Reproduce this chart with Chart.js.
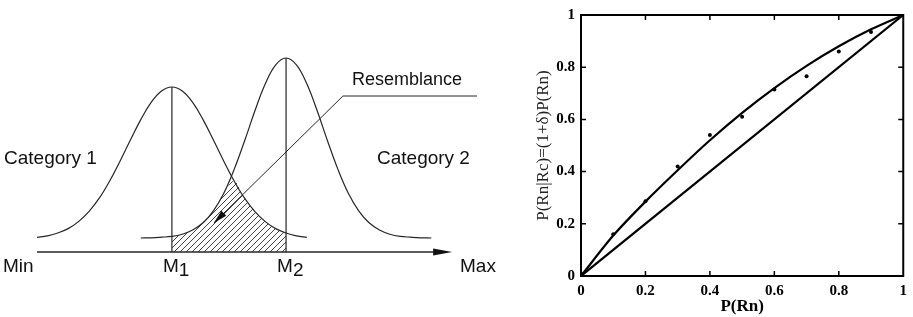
<!DOCTYPE html>
<html>
<head>
<meta charset="utf-8">
<script src="https://cdn.jsdelivr.net/npm/chart.js@4.4.0/dist/chart.umd.min.js"></script>
<style>
  html, body { margin: 0; padding: 0; background: #fff; }
  #wrap { position: relative; width: 913px; height: 317px; overflow: hidden; }
  #left { position: absolute; left: 0; top: 0; }
  #right { position: absolute; left: 520px; top: 0; }
</style>
</head>
<body>
<div id="wrap">
  <canvas id="left" width="520" height="317"></canvas>
  <canvas id="right" width="393" height="317"></canvas>
</div>
<script>
// ---- left diagram: two categories along the Min..Max axis ----
const gridStep = 0.25;
const cat1Start = 0;
const cat1Values = [0.073, 0.081, 0.095, 0.117, 0.152, 0.202, 0.269, 0.355, 0.454, 0.560, 0.662, 0.748, 0.805,
  0.825, 0.805, 0.748, 0.662, 0.560, 0.454, 0.355, 0.269, 0.202, 0.152, 0.117, 0.095, 0.081, 0.073];
const cat2Start = 2.5;
const cat2Values = [0.070, 0.071, 0.074, 0.078, 0.089, 0.110, 0.146, 0.206, 0.294, 0.413, 0.555, 0.706, 0.841, 0.936,
  0.970, 0.936, 0.841, 0.706, 0.555, 0.413, 0.294, 0.206, 0.146, 0.110, 0.089, 0.078, 0.074, 0.071, 0.070];
const m1 = 3.25;
const m2 = 6.0;
const axisEnd = 10;
const leaderPath = [[10.6, 0.78], [7.37, 0.78], [4.26, 0.145]];

// ---- right plot: P(Rn|Rc) against P(Rn) ----
const pRn = [0, 0.1, 0.2, 0.3, 0.4, 0.5, 0.6, 0.7, 0.8, 0.9, 1];
const fitted = [0, 0.155, 0.285, 0.405, 0.52, 0.625, 0.72, 0.805, 0.88, 0.945, 1];
const observed = [0.01, 0.16, 0.286, 0.42, 0.54, 0.61, 0.715, 0.765, 0.86, 0.935, 1];
const diagonal = [0, 1];
const tickValues = [0, 0.2, 0.4, 0.6, 0.8, 1];

const toPts = (start, vals) => vals.map((v, i) => ({ x: start + i * gridStep, y: v }));
const cat1 = toPts(cat1Start, cat1Values);
const cat2 = toPts(cat2Start, cat2Values);

// overlap between M1 and M2 = lower of the two curves
const overlap = [];
for (let x = m1; x <= m2 + 1e-9; x += gridStep) {
  const a = cat1Values[Math.round((x - cat1Start) / gridStep)];
  const b = cat2Values[Math.round((x - cat2Start) / gridStep)];
  overlap.push({ x: x, y: Math.min(a, b) });
}

// hatch pattern
const pc = document.createElement('canvas');
pc.width = 6; pc.height = 6;
const pctx = pc.getContext('2d');
pctx.strokeStyle = '#444';
pctx.lineWidth = 1;
pctx.beginPath();
pctx.moveTo(0, 6); pctx.lineTo(6, 0);
pctx.moveTo(-1, 1); pctx.lineTo(1, -1);
pctx.moveTo(5, 7); pctx.lineTo(7, 5);
pctx.stroke();
const hatch = pctx.createPattern(pc, 'repeat');

const ink = '#262626';
const line = (data, extra) => Object.assign({
  data: data, borderColor: ink, borderWidth: 1.2, pointRadius: 0, fill: false, tension: 0, clip: false
}, extra || {});

const leftDecor = {
  id: 'leftDecor',
  afterDatasetsDraw(chart) {
    const { ctx, scales: { x, y } } = chart;
    ctx.save();
    ctx.fillStyle = '#111';
    // axis arrowhead
    const ax = x.getPixelForValue(axisEnd), ay = y.getPixelForValue(0);
    ctx.beginPath();
    ctx.moveTo(ax, ay); ctx.lineTo(ax - 19, ay - 3.5); ctx.lineTo(ax - 19, ay + 3.5);
    ctx.closePath(); ctx.fill();
    // leader arrowhead
    const p = leaderPath[leaderPath.length - 1], q = leaderPath[leaderPath.length - 2];
    const tx = x.getPixelForValue(p[0]), ty = y.getPixelForValue(p[1]);
    const ang = Math.atan2(ty - y.getPixelForValue(q[1]), tx - x.getPixelForValue(q[0]));
    ctx.translate(tx, ty); ctx.rotate(ang);
    ctx.beginPath();
    ctx.moveTo(0, 0); ctx.lineTo(-14, -3.5); ctx.lineTo(-14, 3.5);
    ctx.closePath(); ctx.fill();
    ctx.restore();

    ctx.save();
    ctx.fillStyle = '#111';
    ctx.textBaseline = 'middle';
    ctx.textAlign = 'left';
    ctx.font = '19px "Liberation Sans", Arial, sans-serif';
    const yb = y.getPixelForValue(0) + 15;
    ctx.fillText('Min', 3, yb);
    ctx.fillText('Max', 460, yb);
    ctx.fillText('Category 1', 4, 159);
    ctx.fillText('Category 2', 377, 159);
    const sub = (label, s, xv) => {
      const px = x.getPixelForValue(xv) - 9;
      ctx.fillText(label, px, yb);
      ctx.fillText(s, px + ctx.measureText(label).width, yb + 4);
    };
    sub('M', '1', m1);
    sub('M', '2', m2);
    ctx.font = '18px "Liberation Sans", Arial, sans-serif';
    ctx.fillText('Resemblance', 352, 80);
    ctx.restore();
  }
};

new Chart(document.getElementById('left'), {
  type: 'line',
  data: {
    datasets: [
      line(cat1, { tension: 0.4 }),
      line(cat2, { tension: 0.4 }),
      line([{ x: m1, y: 0 }, { x: m1, y: Math.max(...cat1Values) }]),
      line([{ x: m2, y: 0 }, { x: m2, y: Math.max(...cat2Values) }]),
      line([{ x: 0, y: 0 }, { x: axisEnd - 0.3, y: 0 }], { borderWidth: 1.4 }),
      line(leaderPath.map(p => ({ x: p[0], y: p[1] })), { borderWidth: 1 }),
      line(overlap, { tension: 0.4, borderWidth: 0, fill: 'origin', backgroundColor: hatch })
    ]
  },
  options: {
    responsive: false,
    animation: false,
    layout: { padding: { left: 37, right: 43, top: 52, bottom: 65 } },
    plugins: { legend: { display: false }, tooltip: { enabled: false } },
    scales: {
      x: { type: 'linear', min: 0, max: 10.6, display: false },
      y: { type: 'linear', min: 0, max: 1, display: false }
    }
  },
  plugins: [leftDecor]
});

// frame and inward ticks for the right plot
const frame = {
  id: 'frame',
  afterDraw(chart) {
    const { ctx, chartArea: a, scales: { x, y } } = chart;
    ctx.save();
    ctx.strokeStyle = '#000';
    ctx.lineWidth = 2;
    ctx.strokeRect(a.left, a.top, a.right - a.left, a.bottom - a.top);
    ctx.lineWidth = 1.5;
    ctx.beginPath();
    tickValues.slice(1, -1).forEach(v => {
      const px = x.getPixelForValue(v), py = y.getPixelForValue(v);
      ctx.moveTo(px, a.bottom); ctx.lineTo(px, a.bottom - 5);
      ctx.moveTo(px, a.top); ctx.lineTo(px, a.top + 5);
      ctx.moveTo(a.left, py); ctx.lineTo(a.left + 5, py);
      ctx.moveTo(a.right, py); ctx.lineTo(a.right - 5, py);
    });
    ctx.stroke();
    ctx.restore();
  }
};

const serif = '"Liberation Serif", "Times New Roman", serif';
const tickText = v => String(Math.round(v * 10) / 10);
new Chart(document.getElementById('right'), {
  type: 'line',
  data: {
    datasets: [
      { data: pRn.map((p, i) => ({ x: p, y: fitted[i] })), borderColor: '#000', borderWidth: 2.2,
        pointRadius: 0, tension: 0.3, fill: false },
      { data: diagonal.map(v => ({ x: v, y: v })), borderColor: '#000', borderWidth: 2.2,
        pointRadius: 0, fill: false },
      { data: pRn.map((p, i) => ({ x: p, y: observed[i] })), showLine: false,
        pointRadius: 2, pointBackgroundColor: '#000', pointBorderWidth: 0 }
    ]
  },
  options: {
    responsive: false,
    animation: false,
    layout: { autoPadding: false, padding: { top: 7, right: 7, left: 0, bottom: 0 } },
    plugins: { legend: { display: false }, tooltip: { enabled: false } },
    scales: {
      x: {
        type: 'linear', min: 0, max: 1,
        afterBuildTicks: s => { s.ticks = tickValues.map(v => ({ value: v })); },
        afterFit: s => { s.height = 41; },
        grid: { display: false, drawTicks: false },
        border: { display: false },
        ticks: { color: '#000', padding: 6, maxRotation: 0, callback: tickText,
          font: { family: serif, size: 15, weight: 'bold' } },
        title: { display: true, text: 'P(Rn)', color: '#000', padding: { top: 0, bottom: 0 },
          font: { family: serif, size: 17, weight: 'bold' } }
      },
      y: {
        type: 'linear', min: 0, max: 1,
        afterBuildTicks: s => { s.ticks = tickValues.map(v => ({ value: v })); },
        afterFit: s => { s.width = 61; },
        grid: { display: false, drawTicks: false },
        border: { display: false },
        ticks: { color: '#000', padding: 6, callback: tickText,
          font: { family: serif, size: 15, weight: 'bold' } },
        title: { display: true, text: 'P(Rn|Rc)=(1+δ)P(Rn)', color: '#222', padding: { top: 13, bottom: 0 },
          font: { family: serif, size: 17 } }
      }
    }
  },
  plugins: [frame]
});
</script>
</body>
</html>
